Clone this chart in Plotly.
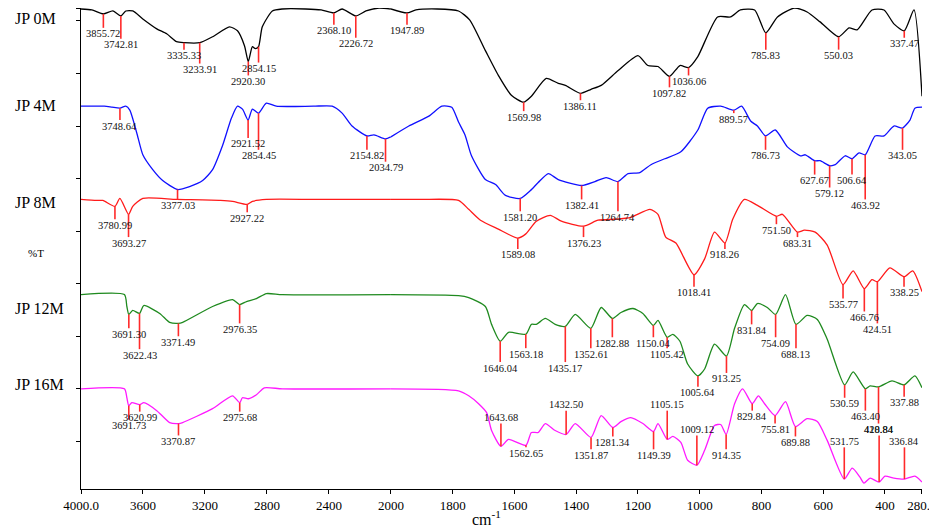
import numpy as np
import plotly.graph_objects as go

# wavenumber (cm-1) / stacked %T readings for each sample
wn_0m = [4000, 3930, 3855.72, 3794, 3742.81, 3711, 3666, 3601, 3511, 3447, 3383, 3335.33, 3233.91, 3151, 3042,
         2990, 2945, 2920.30, 2894, 2875, 2854.15, 2830, 2765, 2701, 2550, 2450, 2368.10, 2315, 2226.72, 2161,
         2077, 2000, 1947.89, 1919, 1850, 1781, 1745, 1694, 1652, 1610, 1569.98, 1545, 1497, 1458, 1435, 1386.11,
         1352, 1319, 1264, 1200, 1168, 1135, 1097.82, 1064, 1036.06, 1006, 942, 900, 868, 822, 785.83, 748, 693,
         652, 610, 550.03, 516, 490, 442, 403, 371, 337.47, 306, 280]
t_0m = [489, 488, 484, 487, 482, 487, 487, 479, 469, 464, 456, 455, 455, 461, 471, 467, 452, 436, 451, 449,
        451, 471, 487, 489, 489, 488, 485, 489, 482, 487, 490, 489, 485, 488, 489, 487, 478, 447, 422, 402,
        395, 401, 419, 414, 412, 404, 408, 412, 427, 442, 432, 431, 421, 432, 430, 441, 481, 481, 488, 488,
        465, 481, 490, 486, 476, 461, 470, 468, 488, 488, 474, 467, 488, 401]

wn_4m = [4000, 3850, 3800, 3748.64, 3711, 3685, 3640, 3601, 3537, 3473, 3377.03, 3299, 3215, 3151, 3087, 3029,
         2990, 2958, 2921.52, 2894, 2854.45, 2804, 2740, 2500, 2379, 2315, 2251, 2154.82, 2109, 2034.79, 2000,
         1942, 1877, 1835, 1803, 1781, 1760, 1739, 1694, 1661, 1629, 1581.20, 1548, 1523, 1490, 1458, 1382.41,
         1339, 1303, 1264.74, 1232, 1194, 1158, 1113, 1061, 1006, 974, 932, 889.57, 864, 835, 813, 786.73, 755,
         716, 674, 658, 627.67, 610, 579.12, 561, 529, 506.64, 484, 463.92, 432, 403, 371, 343.05, 319, 303, 280]
t_4m = [391, 391, 390, 389, 391, 387, 364, 342, 327, 316, 307, 310, 316, 327, 351, 379, 391, 388, 377, 388,
        384, 394, 391, 391, 391, 384, 371, 361, 362, 358, 360, 371, 381, 391, 390, 375, 362, 341, 317, 312,
        301, 298, 306, 314, 323, 317, 311, 315, 319, 315, 323, 324, 332, 338, 345, 367, 389, 391, 387, 391,
        376, 371, 361, 367, 350, 341, 342, 336, 336, 331, 332, 341, 338, 344, 342, 361, 361, 371, 369, 377,
        389, 390]

wn_8m = [4000, 3900, 3859, 3780.99, 3749, 3693.27, 3666, 3601, 3383, 3100, 3022, 2927.22, 2894, 2804, 2500, 2200,
         2000, 1900, 1781, 1748, 1710, 1652, 1589.08, 1564, 1529, 1484, 1448, 1376.23, 1329, 1274, 1223, 1161,
         1135, 1110, 1077, 1018.41, 984, 952, 918.26, 893, 855, 813, 751.50, 732, 683.31, 661, 626, 587, 535.77,
         503, 466.76, 442, 424.51, 384, 338.25, 310, 280]
t_8m = [297, 296, 296, 290, 298, 282, 290, 298, 297, 296, 295, 292, 295, 297, 297, 297, 297, 297, 296, 287,
        276, 267, 258, 262, 275, 281, 275, 270, 276, 277, 279, 287, 282, 259, 253, 221, 237, 264, 253, 277,
        297, 291, 280, 282, 264, 266, 264, 251, 211, 225, 207, 216, 214, 228, 219, 225, 204]

wn_12m = [4000, 3720, 3704, 3691.30, 3666, 3622.43, 3595, 3492, 3428, 3371.49, 3344, 3151, 3022, 2976.35, 2932,
          2868, 2804, 2701, 2000, 1781, 1748, 1694, 1674, 1646.04, 1619, 1563.18, 1545, 1529, 1500, 1468, 1435.17,
          1403, 1352.61, 1319, 1282.88, 1255, 1216, 1184, 1150.04, 1135, 1105.42, 1087, 1064, 1039, 1005.64, 984,
          952, 913.25, 887, 855, 831.84, 813, 781, 754.09, 722, 688.13, 652, 619, 587, 530.59, 503, 463.40, 448,
          420.84, 377, 337.88, 303, 280]
t_12m = [201, 201, 189, 181, 185, 182, 190, 182, 173, 172, 173, 189, 196, 191, 194, 197, 202, 201, 201, 200,
         198, 189, 171, 154, 163, 161, 171, 171, 177, 171, 169, 181, 167, 188, 177, 183, 187, 182, 170, 175,
         158, 161, 154, 131, 119, 126, 151, 139, 167, 191, 185, 192, 188, 181, 201, 171, 180, 176, 156, 110,
         123, 106, 109, 108, 114, 110, 119, 107]

wn_16m = [4000, 3720, 3704, 3691.73, 3672, 3620.99, 3595, 3511, 3428, 3370.87, 3344, 3151, 3022, 2975.68, 2958,
          2920, 2868, 2817, 2700, 2000, 1781, 1748, 1716, 1690, 1674, 1643.68, 1619, 1562.65, 1545, 1523, 1500,
          1468, 1432.50, 1403, 1351.87, 1319, 1281.34, 1255, 1223, 1184, 1149.39, 1135, 1105.15, 1087, 1061, 1039,
          1009.12, 984, 952, 932, 914.35, 887, 861, 829.84, 810, 790, 755.81, 722, 689.88, 652, 619, 587, 531.75,
          506, 481, 468, 448, 418.84, 400, 371, 336.84, 303, 280]
t_16m = [106, 106, 97, 89, 92, 90, 92, 84, 72, 71, 72, 86, 99, 92, 97, 96, 100, 107, 106, 106,
         104, 99, 91, 82, 64, 48, 55, 49, 62, 62, 71, 64, 60, 71, 57, 79, 67, 73, 77, 71,
         63, 71, 55, 58, 52, 34, 29, 44, 69, 70, 60, 91, 106, 91, 99, 91, 79, 93, 68, 76,
         73, 54, 15, 26, 17, 11, 16, 12, 18, 16, 15, 18, 12]

# labelled bands
peaks_0m = [3855.72, 3742.81, 3335.33, 3233.91, 2920.30, 2854.15, 2368.10, 2226.72, 1947.89, 1569.98, 1386.11,
            1097.82, 1036.06, 785.83, 550.03, 337.47]
peaks_4m = [3748.64, 3377.03, 2921.52, 2854.45, 2154.82, 2034.79, 1581.20, 1382.41, 1264.74, 889.57, 786.73,
            627.67, 579.12, 506.64, 463.92, 343.05]
peaks_8m = [3780.99, 3693.27, 2927.22, 1589.08, 1376.23, 1018.41, 918.26, 751.50, 683.31, 535.77, 466.76,
            424.51, 338.25]
peaks_12m = [3691.30, 3622.43, 3371.49, 2976.35, 1646.04, 1563.18, 1435.17, 1352.61, 1282.88, 1150.04, 1105.42,
             1005.64, 913.25, 831.84, 754.09, 688.13, 530.59, 463.40, 420.84, 337.88]
peaks_16m = [3691.73, 3620.99, 3370.87, 2975.68, 1643.68, 1562.65, 1432.50, 1351.87, 1281.34, 1149.39, 1105.15,
             1009.12, 914.35, 829.84, 755.81, 689.88, 531.75, 418.84, 336.84]

# where each label sits relative to its band (+ below, - above)
drop_0m = [20, 29, 13, 27, 20, 22, 18, 28, 18, 15, 13, 17, 14, 23, 19, 13]
drop_4m = [18, 16, 24, 43, 20, 29, 19, 20, 36, 9, 20, 20, 28, 22, 51, 28]
drop_8m = [19, 29, 14, 17, 17, 18, 12, 14, 11, 20, 29, 48, 16]
drop_12m = [20, 42, 19, 25, 27, 20, 42, 26, 25, 18, 17, 17, 23, 20, 29, 30, 19, 28, 43, 18]
drop_16m = [20, 13, 18, 15, -29, 8, -30, 18, 15, 24, -35, -36, 21, 13, 14, 16, -38, -53, -38]

names = ['JP 0M', 'JP 4M', 'JP 8M', 'JP 12M', 'JP 16M']
name_y = [490, 392, 294, 187, 110]
name_anchor = ['top', 'middle', 'middle', 'middle', 'middle']
colors = ['#000000', '#1010ff', '#ff1a1a', '#1f8a1f', '#ff19ff']

samples = [(wn_0m, t_0m, peaks_0m, drop_0m), (wn_4m, t_4m, peaks_4m, drop_4m), (wn_8m, t_8m, peaks_8m, drop_8m),
           (wn_12m, t_12m, peaks_12m, drop_12m), (wn_16m, t_16m, peaks_16m, drop_16m)]

FONT = 'Liberation Serif, Times New Roman, serif'
SPLIT = 2000  # scale change of the wavenumber axis
fig = go.Figure()
shapes = []
annotations = []

for (wn, tr, peaks, drops), color in zip(samples, colors):
    hi = [(w, t) for w, t in zip(wn, tr) if w >= SPLIT]
    lo = [(w, t) for w, t in zip(wn, tr) if w <= SPLIT]
    for part, ax in [(hi, 'x'), (lo, 'x2')]:
        fig.add_trace(go.Scatter(x=[p[0] for p in part], y=[p[1] for p in part], xaxis=ax, yaxis='y',
                                 mode='lines', line=dict(color=color, width=1.3, shape='spline', smoothing=0.6),
                                 hoverinfo='skip'))
    for p, d in zip(peaks, drops):
        ax = 'x' if p > SPLIT else 'x2'
        y0 = float(np.interp(p, wn[::-1], tr[::-1]))
        ylab = y0 - d
        y1 = ylab + 6 if d > 0 else ylab - 6
        shapes.append(dict(type='line', xref=ax, yref='y', x0=p, x1=p, y0=y0, y1=y1,
                           line=dict(color='#ff2a2a', width=1.6)))
        annotations.append(dict(text='%.2f' % p, x=p, xref=ax, y=ylab, yref='y', showarrow=False,
                                xanchor='center', yanchor='middle',
                                font=dict(family=FONT, size=10.5, color='#111111')))

for n, y, anc in zip(names, name_y, name_anchor):
    annotations.append(dict(text=n, x=-0.081, xref='paper', y=y, yref='y', showarrow=False,
                            xanchor='left', yanchor=anc, font=dict(family=FONT, size=16, color='black')))

annotations.append(dict(text='%T', x=-0.053, xref='paper', y=243, yref='y', showarrow=False,
                        xanchor='center', yanchor='middle', font=dict(family=FONT, size=11, color='black')))
annotations.append(dict(text='cm<sup>-1</sup>', x=0.482, xref='paper', y=-0.061, yref='paper', showarrow=False,
                        xanchor='center', yanchor='middle', font=dict(family=FONT, size=16, color='black')))

axis_style = dict(showline=True, linecolor='black', linewidth=1, ticks='outside', ticklen=4, tickcolor='black',
                  showgrid=False, zeroline=False, anchor='y', ticklabeloverflow='allow',
                  tickfont=dict(family=FONT, size=13, color='black'))

# the page body adds an 8 px offset, so the figure is sized to the window minus that
fig.update_layout(
    width=929, height=522,
    margin=dict(l=73, r=12, t=0, b=41),
    plot_bgcolor='white', paper_bgcolor='white',
    showlegend=False,
    shapes=shapes,
    annotations=annotations,
    xaxis=dict(domain=[0, 0.3685], range=[4000, SPLIT],
               tickvals=[4000, 3600, 3200, 2800, 2400],
               ticktext=['4000.0', '3600', '3200', '2800', '2400'], **axis_style),
    xaxis2=dict(domain=[0.3685, 1], range=[SPLIT, 280],
                tickvals=[2000, 1800, 1600, 1400, 1200, 1000, 800, 600, 400, 280],
                ticktext=['2000', '1800', '1600', '1400', '1200', '1000', '800', '600', '400', '280.0'],
                **axis_style),
    yaxis=dict(range=[5, 490], tickvals=[53, 106, 159, 212, 265, 318, 371, 424, 477, 489],
               showticklabels=False, ticks='outside', ticklen=4, tickcolor='black',
               showline=True, linecolor='black', showgrid=False, zeroline=False),
)

fig.write_html('out.html')
